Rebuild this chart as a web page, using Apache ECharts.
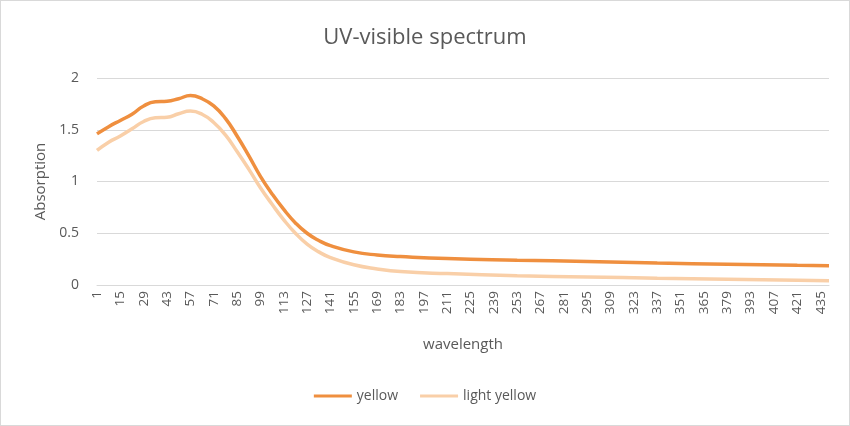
<!DOCTYPE html>
<html>
<head>
<meta charset="utf-8">
<script src="https://cdn.jsdelivr.net/npm/echarts@6/dist/echarts.min.js"></script>
<style>
  html, body { margin: 0; padding: 0; background: #fff; }
  #chart { width: 848px; height: 424px; border: 1px solid #d9d9d9; }
</style>
</head>
<body>
<div id="chart"></div>
<script>
// wavelength index 1..440 on the category axis
const CATEGORY_COUNT = 440;
const categories = Array.from({ length: CATEGORY_COUNT }, (_, i) => String(i + 1));

const sampleX = [1, 8, 15, 22, 29, 36, 43, 50, 57, 64, 71, 78, 85, 92, 99, 106, 113, 120, 127, 134, 141, 155, 169, 183, 211, 253, 295, 337, 379, 421, 440];
const yellow = [1.46, 1.53, 1.59, 1.65, 1.73, 1.77, 1.775, 1.80, 1.83, 1.80, 1.73, 1.61, 1.44, 1.25, 1.05, 0.88, 0.73, 0.60, 0.50, 0.43, 0.38, 0.32, 0.29, 0.275, 0.255, 0.24, 0.228, 0.212, 0.20, 0.19, 0.187];
const lightYellow = [1.30, 1.38, 1.44, 1.51, 1.58, 1.615, 1.62, 1.655, 1.68, 1.65, 1.57, 1.45, 1.29, 1.12, 0.94, 0.78, 0.63, 0.50, 0.395, 0.32, 0.265, 0.195, 0.155, 0.13, 0.11, 0.09, 0.078, 0.066, 0.055, 0.045, 0.04];

const FONT = "Open Sans";
const TEXT = "#595959";

function toPoints(values) {
  return sampleX.map((x, i) => [String(x), values[i]]);
}

const chart = echarts.init(document.getElementById("chart"), null, { renderer: "canvas" });

chart.setOption({
  animation: false,
  textStyle: { fontFamily: FONT, color: TEXT },
  title: {
    text: "UV-visible spectrum",
    left: "center",
    top: 21,
    textStyle: { fontFamily: FONT, fontSize: 22, fontWeight: "normal", color: TEXT }
  },
  legend: {
    bottom: 17,
    left: "center",
    icon: "rect",
    itemWidth: 38,
    itemHeight: 3,
    itemGap: 22,
    textStyle: { fontFamily: FONT, fontSize: 14, color: TEXT },
    data: ["yellow", "light yellow"]
  },
  grid: { left: 96, right: 20, top: 77, bottom: 140 },
  xAxis: {
    type: "category",
    data: categories,
    boundaryGap: false,
    name: "wavelength",
    nameLocation: "middle",
    nameGap: 52,
    nameTextStyle: { fontFamily: FONT, fontSize: 15, color: TEXT },
    axisLine: { lineStyle: { color: "#d9d9d9" } },
    axisTick: { show: false },
    axisLabel: { interval: 13, rotate: 90, color: TEXT, fontFamily: FONT, fontSize: 13.5, margin: 6 }
  },
  yAxis: {
    type: "value",
    min: 0,
    max: 2,
    interval: 0.5,
    name: "Absorption",
    nameLocation: "middle",
    nameGap: 48,
    nameTextStyle: { fontFamily: FONT, fontSize: 15, color: TEXT },
    axisLine: { show: false },
    axisTick: { show: false },
    axisLabel: { color: TEXT, fontFamily: FONT, fontSize: 14, margin: 18 },
    splitLine: { lineStyle: { color: "#d9d9d9" } }
  },
  series: [
    {
      name: "yellow",
      type: "line",
      data: toPoints(yellow),
      smooth: true,
      showSymbol: false,
      itemStyle: { color: "#ef8f3f" },
      lineStyle: { color: "#ef8f3f", width: 3.5 }
    },
    {
      name: "light yellow",
      type: "line",
      data: toPoints(lightYellow),
      smooth: true,
      showSymbol: false,
      itemStyle: { color: "#f9cfa8" },
      lineStyle: { color: "#f9cfa8", width: 3.5 }
    }
  ]
});
</script>
</body>
</html>
